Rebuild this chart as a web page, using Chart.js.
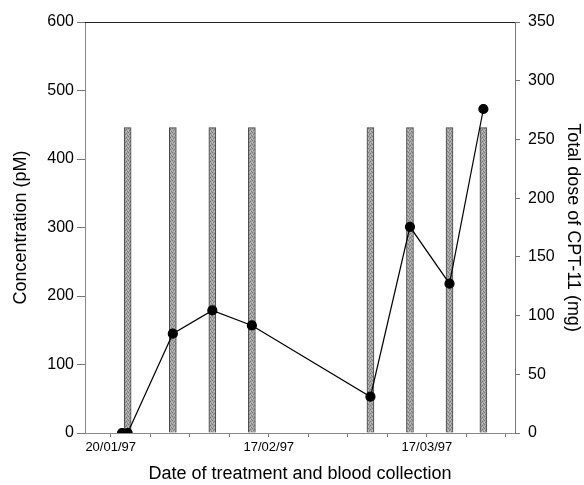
<!DOCTYPE html>
<html>
<head>
<meta charset="utf-8">
<script src="https://cdn.jsdelivr.net/npm/chart.js@4/dist/chart.umd.min.js"></script>
<style>
  html, body { margin: 0; padding: 0; background: #fff; }
  #wrap { width: 584px; height: 485px; }
</style>
</head>
<body>
<div id="wrap"><canvas id="myChart" width="584" height="485"></canvas></div>
<script>
// days counted from 20/01/97
const doseDays = [3, 11, 18, 25, 46, 53, 60, 66];
const doseMg = [260, 260, 260, 260, 260, 260, 260, 260];
const sampleDays = [2, 3, 11, 18, 25, 46, 53, 60, 66];
const concentration = [0, 0, 145, 179, 157, 53, 301, 218, 473];
const tickDays = [0, 7, 14, 21, 28, 35, 42, 49, 56, 63, 70];
const tickLabels = { 0: '20/01/97', 28: '17/02/97', 56: '17/03/97' };

const FONT = 'Liberation Sans, Arial, sans-serif';

// stippled grey fill for the dose bars
function barPattern() {
    const c = document.createElement('canvas');
    c.width = 4; c.height = 4;
    const g = c.getContext('2d');
    g.fillStyle = '#a6a6a6';
    g.fillRect(0, 0, 4, 4);
    g.fillStyle = '#7a7a7a';
    g.fillRect(0, 0, 1, 1); g.fillRect(2, 1, 1, 1);
    g.fillRect(1, 2, 1, 1); g.fillRect(3, 3, 1, 1);
    g.fillStyle = '#c4c4c4';
    g.fillRect(2, 3, 1, 1); g.fillRect(0, 2, 1, 1);
    return g.createPattern(c, 'repeat');
}

const topBorder = {
    id: 'topBorder',
    afterDraw(chart) {
        const { ctx, chartArea } = chart;
        ctx.save();
        ctx.strokeStyle = '#222';
        ctx.lineWidth = 1;
        ctx.beginPath();
        ctx.moveTo(chartArea.left, chartArea.top + 0.5);
        ctx.lineTo(chartArea.right, chartArea.top + 0.5);
        ctx.stroke();
        ctx.restore();
    }
};

const ctx = document.getElementById('myChart').getContext('2d');
new Chart(ctx, {
    data: {
        datasets: [
            {
                type: 'line',
                label: 'Concentration',
                data: sampleDays.map((d, i) => ({ x: d, y: concentration[i] })),
                yAxisID: 'y',
                borderColor: '#000',
                borderWidth: 1.2,
                pointRadius: 4.5,
                pointBackgroundColor: '#000',
                pointBorderColor: '#000',
                tension: 0,
                order: 0
            },
            {
                type: 'bar',
                label: 'Dose',
                data: doseDays.map((d, i) => ({ x: d, y: doseMg[i] })),
                yAxisID: 'y1',
                backgroundColor: barPattern(),
                borderColor: '#444',
                borderWidth: 1,
                barThickness: 7,
                order: 1
            }
        ]
    },
    options: {
        responsive: false,
        animation: false,
        layout: { padding: { top: 22, left: 0, right: 0, bottom: 0 } },
        plugins: { legend: { display: false }, tooltip: { enabled: false } },
        scales: {
            x: {
                type: 'linear',
                offset: false,
                min: -4.55,
                max: 71.6,
                afterBuildTicks: s => { s.ticks = tickDays.map(v => ({ value: v })); },
                afterFit: s => { s.height = 52; },
                grid: { drawOnChartArea: false, offset: false, tickLength: 4, color: '#777' },
                border: { color: '#888' },
                ticks: {
                    autoSkip: false,
                    maxRotation: 0,
                    padding: 3,
                    color: '#000',
                    font: { family: FONT, size: 13 },
                    callback: v => tickLabels[v] || ''
                },
                title: {
                    display: true,
                    text: 'Date of treatment and blood collection',
                    color: '#000',
                    font: { family: FONT, size: 18 },
                    padding: { top: 0, bottom: 0 }
                }
            },
            y: {
                position: 'left',
                min: 0,
                max: 600,
                afterFit: s => { s.width = 85; },
                grid: { drawOnChartArea: false, tickLength: 8, color: '#777' },
                border: { color: '#888' },
                ticks: { stepSize: 100, padding: 3, color: '#000', font: { family: FONT, size: 16 } },
                title: {
                    display: true,
                    text: 'Concentration (pM)',
                    color: '#000',
                    font: { family: FONT, size: 18 },
                    padding: { top: 10, bottom: 0 }
                }
            },
            y1: {
                position: 'right',
                min: 0,
                max: 350,
                afterFit: s => { s.width = 69; },
                grid: { drawOnChartArea: false, tickLength: 5, color: '#777' },
                border: { color: '#777' },
                ticks: { stepSize: 50, padding: 8, color: '#000', font: { family: FONT, size: 16 } },
                title: {
                    display: true,
                    text: 'Total dose of CPT-11 (mg)',
                    color: '#000',
                    font: { family: FONT, size: 18 },
                    padding: { top: 0, bottom: 0 }
                }
            }
        }
    },
    plugins: [topBorder]
});
</script>
</body>
</html>
